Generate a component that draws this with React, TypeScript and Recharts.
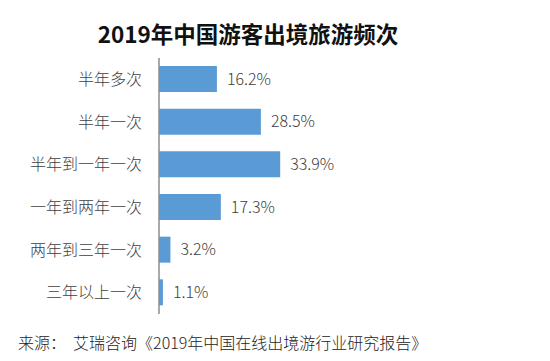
import { BarChart, Bar, XAxis, YAxis, LabelList } from "recharts"

const categories = [
  "半年多次",
  "半年一次",
  "半年到一年一次",
  "一年到两年一次",
  "两年到三年一次",
  "三年以上一次",
]
const shares = [16.2, 28.5, 33.9, 17.3, 3.2, 1.1]

const FONT = '"Noto Sans CJK SC", "Noto Sans", sans-serif'
const TEXT = "#404040"

const data = categories.map((name, i) => ({ name, value: shares[i] }))

export default function App() {
  return (
    <div
      style={{
        position: "fixed",
        left: 0,
        top: 0,
        width: 550,
        height: 361,
        background: "#fff",
        fontFamily: FONT,
      }}
    >
      <div
        style={{
          position: "absolute",
          left: 0,
          top: 21,
          width: 496,
          textAlign: "center",
          fontSize: 22.5,
          lineHeight: "24px",
          fontWeight: 700,
          color: "#111",
        }}
      >
        2019年中国游客出境旅游频次
      </div>
      <BarChart
        width={550}
        height={361}
        data={data}
        layout="vertical"
        margin={{ top: 58, right: 248, bottom: 47, left: 0 }}
      >
        <XAxis type="number" domain={[0, 40]} hide />
        <YAxis
          type="category"
          dataKey="name"
          width={159}
          tickLine={false}
          tickSize={0}
          tickMargin={17}
          axisLine={{ stroke: "#8c8c8c", strokeWidth: 1.5 }}
          tick={{ fill: TEXT, fontSize: 16, fontFamily: FONT, fontWeight: 300 }}
          interval={0}
        />
        <Bar dataKey="value" fill="#5b9bd5" barSize={26} isAnimationActive={false}>
          <LabelList
            dataKey="value"
            position="right"
            offset={10}
            formatter={(v: any) => `${v}%`}
            style={{ fill: TEXT, fontSize: 16, fontFamily: FONT, fontWeight: 300 }}
          />
        </Bar>
      </BarChart>
      <div
        style={{
          position: "absolute",
          left: 18,
          top: 332,
          fontSize: 16,
          lineHeight: "20px",
          color: "#222",
          fontWeight: 300,
          whiteSpace: "pre",
        }}
      >
        {"来源：  艾瑞咨询《2019年中国在线出境游行业研究报告》"}
      </div>
    </div>
  )
}
